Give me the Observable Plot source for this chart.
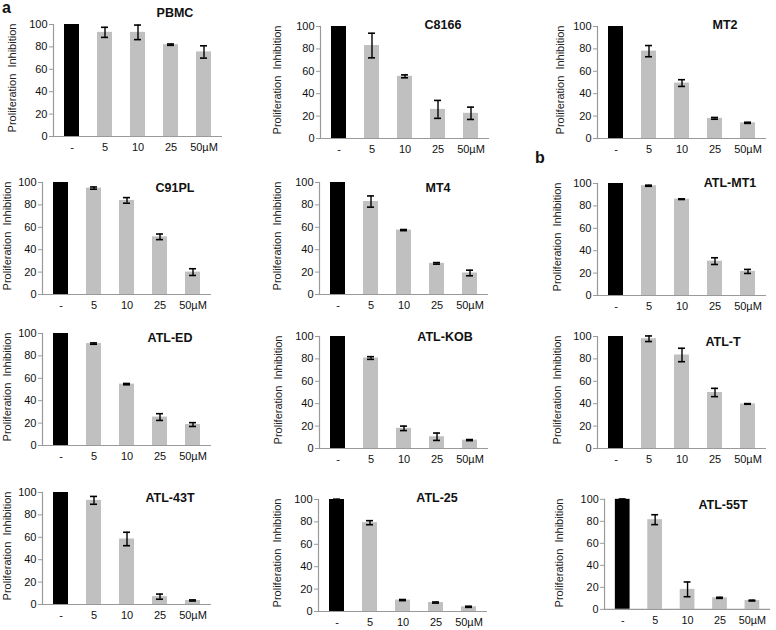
<!DOCTYPE html>
<html><head><meta charset="utf-8">
<script src="https://cdn.jsdelivr.net/npm/d3@7"></script>
<script src="https://cdn.jsdelivr.net/npm/@observablehq/plot@0.6"></script>
<style>
body{margin:0;background:#fff;font-family:"Liberation Sans",Arial,sans-serif;}
#root{position:relative;width:776px;height:630px;overflow:hidden;background:#fff;}
.panel{position:absolute;}
.title{position:absolute;font-weight:bold;font-size:12.5px;transform:translate(-50%,-50%);white-space:nowrap;color:#111;line-height:1;}
.ylab{position:absolute;font-size:11px;transform:translate(-50%,-50%) rotate(-90deg);white-space:pre;color:#222;line-height:1;}
.tag{position:absolute;font-weight:bold;font-size:16px;color:#111;line-height:1;}
</style></head><body><div id="root"></div>
<script>
// ---- data ----
const concentrations = ["-", "5", "10", "25", "50µM"];
const yTicks = [0, 20, 40, 60, 80, 100];
const yLabel = "Proliferation  Inhibition";

const PBMC = [100, 93, 93, 82, 75.5];
const PBMC_err = [0, 4.5, 6.5, 0.6, 5.5];
const C8166 = [100, 83, 55.5, 26, 22.5];
const C8166_err = [0, 11, 1.3, 8, 5.5];
const MT2 = [100, 78, 49.5, 18, 14];
const MT2_err = [0, 5, 3, 0.8, 0.5];
const C91PL = [100, 95, 84, 51.5, 20];
const C91PL_err = [0, 1, 2.5, 2.5, 3];
const MT4 = [100, 83, 57.5, 27.8, 19.2];
const MT4_err = [0, 5, 0.5, 0.7, 2.5];
const ATL_MT1 = [100, 98, 86, 30.7, 21.5];
const ATL_MT1_err = [0, 0.5, 0.3, 3, 1.8];
const ATL_ED = [100, 91, 54.8, 25.4, 18.7];
const ATL_ED_err = [0, 0.6, 0.6, 3, 1.7];
const ATL_KOB = [100, 80.8, 18, 10.5, 7.5];
const ATL_KOB_err = [0, 1.2, 2, 3.3, 0.5];
const ATL_T = [100, 98, 83.5, 50, 39.8];
const ATL_T_err = [0, 2.5, 6, 3.7, 0.3];
const ATL_43T = [100, 93, 58.5, 7, 3.6];
const ATL_43T_err = [0, 3.5, 6, 2.3, 0.5];
const ATL_25 = [100, 79.3, 10.2, 8, 4.2];
const ATL_25_err = [0.3, 1.8, 0.5, 0.5, 0.5];
const ATL_55T = [100, 81.5, 18.2, 10.5, 8];
const ATL_55T_err = [0.3, 4.5, 6.7, 0.5, 0.4];

const cellLines = ["PBMC","C8166","MT2","C91PL","MT4","ATL-MT1","ATL-ED","ATL-KOB","ATL-T","ATL-43T","ATL-25","ATL-55T"];
const means = [PBMC, C8166, MT2, C91PL, MT4, ATL_MT1, ATL_ED, ATL_KOB, ATL_T, ATL_43T, ATL_25, ATL_55T];
const errs = [PBMC_err, C8166_err, MT2_err, C91PL_err, MT4_err, ATL_MT1_err, ATL_ED_err, ATL_KOB_err, ATL_T_err, ATL_43T_err, ATL_25_err, ATL_55T_err];

// ---- layout (page pixels): y-axis x, top of plot, title centre, y-label centre x ----
const layout = [
  {ax: 53,  top: 24,  tx: 175, ty: 13,  lx: 12},
  {ax: 320, top: 26,  tx: 443, ty: 25,  lx: 277},
  {ax: 597, top: 26,  tx: 725, ty: 25,  lx: 560},
  {ax: 42,  top: 182, tx: 175, ty: 188, lx: 7},
  {ax: 319, top: 182, tx: 438, ty: 188, lx: 277},
  {ax: 597, top: 183, tx: 730, ty: 183, lx: 557},
  {ax: 42,  top: 333, tx: 170, ty: 338, lx: 7},
  {ax: 319, top: 336, tx: 445, ty: 337, lx: 278},
  {ax: 597, top: 336, tx: 723, ty: 342, lx: 557},
  {ax: 42,  top: 492, tx: 170, ty: 498, lx: 7},
  {ax: 318, top: 499, tx: 437, ty: 498, lx: 277},
  {ax: 605, top: 499, tx: 723, ty: 505, lx: 559}
];

const root = document.getElementById("root");
const ML = 55, MT = 10, MB = 28, MR = 6, PW = 169, PH = 112;

cellLines.forEach((name, i) => {
  const rows = concentrations.map((c, j) => ({c, m: means[i][j], e: errs[i][j], lo: means[i][j] - errs[i][j], hi: means[i][j] + errs[i][j]}));
  const errRows = rows.filter(d => d.e > 0);
  const chart = Plot.plot({
    width: ML + PW + MR, height: MT + PH + MB,
    marginLeft: ML, marginRight: MR, marginTop: MT, marginBottom: MB,
    style: {fontFamily: "Liberation Sans, Arial, sans-serif", fontSize: "11px", color: "#111", background: "transparent", overflow: "visible"},
    x: {domain: concentrations, paddingInner: 0.55, paddingOuter: 0.28},
    y: {domain: [0, 100]},
    marks: [
      Plot.barY(rows.filter(d => d.c === "-"), {x: "c", y: "m", fill: "#000"}),
      Plot.barY(rows.filter(d => d.c !== "-"), {x: "c", y: "m", fill: "#c0c0c0"}),
      Plot.ruleY([0], {stroke: "#9a9a9a", strokeWidth: 1.2}),
      Plot.frame({anchor: "left", stroke: "#9a9a9a", strokeWidth: 1.2}),
      Plot.ruleX(errRows, {x: "c", y1: "lo", y2: "hi", stroke: "#000", strokeWidth: 1.4}),
      Plot.tickY(errRows, {x: "c", y: "hi", insetLeft: 4, insetRight: 4, stroke: "#000", strokeWidth: 1.6}),
      Plot.tickY(errRows, {x: "c", y: "lo", insetLeft: 4, insetRight: 4, stroke: "#000", strokeWidth: 1.6}),
      Plot.axisY({ticks: yTicks, tickSize: 4, tickPadding: 2, stroke: "#9a9a9a", fill: "#111", label: null, fontSize: 11}),
      Plot.axisX({tickSize: 0, tickPadding: 7, label: null, fill: "#111", fontSize: 11})
    ]
  });
  const div = document.createElement("div");
  div.className = "panel";
  div.style.left = (layout[i].ax - ML) + "px";
  div.style.top = (layout[i].top - MT) + "px";
  div.appendChild(chart);
  root.appendChild(div);
  const t = document.createElement("div");
  t.className = "title";
  t.textContent = name;
  t.style.left = layout[i].tx + "px";
  t.style.top = layout[i].ty + "px";
  root.appendChild(t);
  const yl = document.createElement("div");
  yl.className = "ylab";
  yl.textContent = yLabel;
  yl.style.left = layout[i].lx + "px";
  yl.style.top = (layout[i].top + PH / 2 - 2) + "px";
  root.appendChild(yl);
});

const tags = [{t: "a", x: 2, y: 0}, {t: "b", x: 535, y: 150}];
tags.forEach(g => {
  const d = document.createElement("div");
  d.className = "tag"; d.textContent = g.t;
  d.style.left = g.x + "px"; d.style.top = g.y + "px";
  root.appendChild(d);
});
</script></body></html>
